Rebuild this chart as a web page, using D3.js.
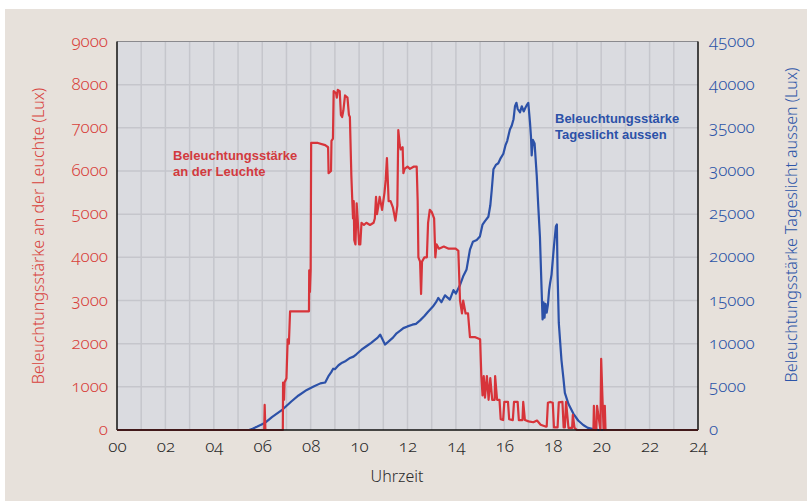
<!DOCTYPE html>
<html>
<head>
<meta charset="utf-8">
<script src="https://cdn.jsdelivr.net/npm/d3@7"></script>
<style>
  body { margin: 0; background: #ffffff; }
  svg { display: block; }
  .num { font-family: "Noto Sans", sans-serif; font-variant-numeric: oldstyle-nums; font-weight: 300; }
</style>
</head>
<body>
<div id="chart"></div>
<script>
// hours of the day shown on the x axis
var hourTicks = [0, 2, 4, 6, 8, 10, 12, 14, 16, 18, 20, 22, 24];
var hourLabels = ["00", "02", "04", "06", "08", "10", "12", "14", "16", "18", "20", "22", "24"];
var leftTicks = [0, 1000, 2000, 3000, 4000, 5000, 6000, 7000, 8000, 9000];
var rightTicks = [0, 5000, 10000, 15000, 20000, 25000, 30000, 35000, 40000, 45000];

// Beleuchtungsstärke an der Leuchte (Lux)
var lampHours = [0, 6.08, 6.1, 6.13, 6.85, 6.86, 6.9, 6.92, 7.0, 7.05, 7.1, 7.15, 7.5, 7.93, 7.94, 7.97, 8.0, 8.02, 8.3, 8.6, 8.72, 8.74, 8.84, 8.86, 8.92, 8.95, 9.05, 9.08, 9.12, 9.2, 9.25, 9.3, 9.35, 9.42, 9.52, 9.58, 9.62, 9.68, 9.72, 9.75, 9.78, 9.8, 9.85, 9.9, 9.95, 10.0, 10.05, 10.1, 10.2, 10.3, 10.45, 10.6, 10.65, 10.7, 10.74, 10.8, 10.85, 10.95, 11.05, 11.1, 11.15, 11.2, 11.22, 11.3, 11.4, 11.45, 11.5, 11.58, 11.62, 11.68, 11.72, 11.8, 11.83, 11.88, 12.0, 12.1, 12.25, 12.38, 12.42, 12.45, 12.52, 12.56, 12.6, 12.7, 12.8, 12.85, 12.92, 13.0, 13.1, 13.15, 13.2, 13.3, 13.5, 13.7, 14.0, 14.1, 14.17, 14.25, 14.3, 14.4, 14.5, 14.58, 14.8, 15.0, 15.05, 15.1, 15.15, 15.2, 15.28, 15.35, 15.42, 15.5, 15.6, 15.62, 15.7, 15.8, 15.85, 15.95, 16.0, 16.15, 16.2, 16.35, 16.4, 16.55, 16.6, 16.75, 16.78, 16.85, 17.0, 17.2, 17.35, 17.5, 17.7, 17.75, 17.8, 17.9, 18.0, 18.05, 18.2, 18.25, 18.4, 18.45, 18.5, 18.55, 18.65, 18.8, 18.83, 18.9, 19.0, 19.68, 19.7, 19.73, 19.8, 19.83, 19.97, 20.0, 20.05, 20.1, 20.15, 20.18, 20.22, 24];
var lampLux = [0, 0, 580, 0, 0, 1100, 700, 1100, 1200, 2100, 2000, 2750, 2750, 2750, 3700, 3200, 3700, 6650, 6650, 6600, 6550, 5950, 6000, 6700, 6750, 7850, 7800, 7700, 7880, 7850, 7300, 7250, 7400, 7750, 7700, 7300, 7250, 5900, 5300, 4900, 5300, 4400, 4300, 5250, 4800, 4300, 4300, 4800, 4750, 4800, 4750, 4800, 4900, 5400, 5000, 5200, 5400, 5100, 5500, 5800, 6300, 5600, 5300, 5300, 5150, 5000, 4850, 5200, 6950, 6600, 6500, 6550, 5950, 6050, 6100, 6050, 6100, 6100, 5300, 4000, 3900, 3150, 3900, 4000, 4000, 4800, 5100, 5050, 4900, 4000, 4300, 4200, 4250, 4200, 4200, 4150, 3000, 2700, 3000, 2700, 2700, 2150, 2150, 2100, 1250, 800, 1250, 750, 1250, 700, 1200, 700, 700, 1250, 700, 700, 250, 230, 650, 650, 250, 230, 650, 650, 230, 230, 650, 230, 200, 180, 220, 120, 80, 80, 630, 650, 630, 60, 60, 640, 650, 60, 60, 650, 50, 50, 350, 50, 0, 0, 560, 0, 0, 560, 0, 1650, 800, 0, 560, 0, 0, 0];

// Beleuchtungsstärke Tageslicht aussen (Lux)
var dayHours = [0, 5.45, 5.6, 5.8, 6.1, 6.4, 6.85, 7.2, 7.5, 7.84, 8.1, 8.4, 8.6, 8.75, 8.85, 8.93, 9.0, 9.15, 9.3, 9.45, 9.6, 9.77, 9.9, 10.1, 10.3, 10.5, 10.73, 10.8, 10.87, 10.95, 11.07, 11.2, 11.4, 11.55, 11.7, 11.83, 12.0, 12.2, 12.35, 12.52, 12.7, 12.85, 13.05, 13.2, 13.27, 13.4, 13.55, 13.75, 13.9, 14.0, 14.17, 14.3, 14.44, 14.58, 14.7, 14.86, 14.99, 15.1, 15.2, 15.34, 15.42, 15.48, 15.55, 15.65, 15.75, 15.85, 15.96, 16.05, 16.12, 16.23, 16.3, 16.38, 16.44, 16.5, 16.55, 16.65, 16.72, 16.8, 16.85, 16.92, 16.99, 17.06, 17.1, 17.13, 17.18, 17.25, 17.34, 17.4, 17.47, 17.54, 17.58, 17.62, 17.66, 17.7, 17.75, 17.8, 17.85, 17.89, 17.95, 18.05, 18.13, 18.17, 18.2, 18.25, 18.36, 18.44, 18.5, 18.65, 18.85, 19.05, 19.26, 19.45, 19.67, 19.9, 24];
var dayLux = [0, 0, 150, 400, 800, 1500, 2400, 3300, 4000, 4640, 5000, 5400, 5500, 6300, 6700, 7100, 7050, 7500, 7800, 8000, 8300, 8500, 8800, 9300, 9700, 10100, 10600, 10800, 11050, 10600, 9900, 10200, 10700, 11200, 11500, 11800, 12000, 12200, 12300, 12700, 13200, 13700, 14300, 14900, 15300, 14800, 15600, 15100, 16200, 15800, 16800, 17800, 18600, 20900, 21800, 22000, 22400, 23800, 24200, 24700, 26000, 27800, 30200, 30700, 30900, 31500, 32000, 33000, 33500, 34800, 35200, 36000, 37500, 37900, 37200, 36800, 37500, 36900, 37200, 37600, 37900, 35600, 34000, 31800, 33600, 33200, 29400, 26000, 22400, 16200, 12800, 14800, 13000, 14600, 13600, 14500, 16200, 17000, 18000, 21300, 23600, 23800, 18000, 12400, 8100, 6000, 4300, 3000, 1900, 1100, 580, 250, 100, 0, 0];

var width = 807, height = 501;
// plot box (not "top": that name is taken by window.top)
var plotL = 117, plotR = 698, plotT = 41.5, plotB = 430;

var svg = d3.select("#chart").append("svg")
	.attr("width", width)
	.attr("height", height);

// beige page, small white border top and left
svg.append("rect").attr("x", 5).attr("y", 9)
	.attr("width", width - 5).attr("height", height - 9)
	.attr("fill", "#e7e1db");

var x = d3.scaleLinear().domain([0, 24]).range([plotL, plotR]);
var yL = d3.scaleLinear().domain([0, 9000]).range([plotB, plotT]);
var yR = d3.scaleLinear().domain([0, 45000]).range([plotB, plotT]);

// plot background
svg.append("rect").attr("x", plotL).attr("y", plotT)
	.attr("width", plotR - plotL).attr("height", plotB - plotT)
	.attr("fill", "#dadbe0");

// grid: every hour, every 1000 lux
svg.append("g").selectAll("line").data(d3.range(1, 24)).enter().append("line")
	.attr("x1", function(d) { return x(d); })
	.attr("x2", function(d) { return x(d); })
	.attr("y1", plotT).attr("y2", plotB)
	.attr("stroke", "#c5c6cc").attr("stroke-width", 1.5);
svg.append("g").selectAll("line").data(leftTicks.slice(1, 9)).enter().append("line")
	.attr("y1", function(d) { return yL(d); })
	.attr("y2", function(d) { return yL(d); })
	.attr("x1", plotL).attr("x2", plotR)
	.attr("stroke", "#c5c6cc").attr("stroke-width", 1.5);

// frame
svg.append("line").attr("x1", plotL).attr("x2", plotR).attr("y1", plotT).attr("y2", plotT)
	.attr("stroke", "#8a8a8e").attr("stroke-width", 1);
svg.append("line").attr("x1", plotL).attr("x2", plotL).attr("y1", plotT).attr("y2", plotB)
	.attr("stroke", "#111").attr("stroke-width", 1.5);
svg.append("line").attr("x1", plotR).attr("x2", plotR).attr("y1", plotT).attr("y2", plotB)
	.attr("stroke", "#111").attr("stroke-width", 1.5);

// data lines
var lampData = lampHours.map(function(h, i) { return [h, lampLux[i]]; });
var dayData = dayHours.map(function(h, i) { return [h, dayLux[i]]; });

svg.append("path").datum(dayData)
	.attr("d", d3.line().x(function(d) { return x(d[0]); }).y(function(d) { return yR(d[1]); }))
	.attr("fill", "none").attr("stroke", "#2c51a8").attr("stroke-width", 2.2)
	.attr("stroke-linejoin", "round");
svg.append("path").datum(lampData)
	.attr("d", d3.line().x(function(d) { return x(d[0]); }).y(function(d) { return yL(d[1]); }))
	.attr("fill", "none").attr("stroke", "#d7343a").attr("stroke-width", 2.2)
	.attr("stroke-linejoin", "round");

svg.append("line").attr("x1", plotL).attr("x2", plotR).attr("y1", plotB).attr("y2", plotB)
	.attr("stroke", "#111").attr("stroke-width", 1.5);

// axes
var xAxis = svg.append("g").attr("class", "num")
	.attr("transform", "translate(0," + plotB + ")")
	.call(d3.axisBottom(x).tickValues(hourTicks).tickSize(0)
		.tickFormat(function(d, i) { return hourLabels[i]; }));
xAxis.select(".domain").remove();
xAxis.selectAll("text").attr("y", 21.5).attr("dy", null)
	.attr("font-size", 17).attr("fill", "#2b2b2b");
xAxis.attr("font-family", null);

var lAxis = svg.append("g").attr("class", "num")
	.attr("transform", "translate(" + plotL + ",0)")
	.call(d3.axisLeft(yL).tickValues(leftTicks).tickSize(0).tickPadding(9).tickFormat(d3.format("d")));
lAxis.select(".domain").remove();
lAxis.selectAll("text").attr("dy", "0.27em")
	.attr("font-size", 17).attr("fill", "#d8413c");
lAxis.attr("font-family", null);

var rAxis = svg.append("g").attr("class", "num")
	.attr("transform", "translate(" + plotR + ",0)")
	.call(d3.axisRight(yR).tickValues(rightTicks).tickSize(0).tickPadding(11).tickFormat(d3.format("d")));
rAxis.select(".domain").remove();
rAxis.selectAll("text").attr("dy", "0.27em")
	.attr("font-size", 17).attr("fill", "#2d55a8");
rAxis.attr("font-family", null);

// axis titles
svg.append("text").text("Uhrzeit")
	.attr("x", 397).attr("y", 482).attr("text-anchor", "middle").attr("font-weight", 300)
	.attr("font-family", "Noto Sans, sans-serif").attr("font-size", 16).attr("fill", "#2b2b2b");
svg.append("text").text("Beleuchtungsstärke an der Leuchte (Lux)")
	.attr("transform", "translate(38,236) rotate(-90)")
	.attr("text-anchor", "middle").attr("dy", "0.35em").attr("font-weight", 300)
	.attr("font-family", "Noto Sans, sans-serif").attr("font-size", 16).attr("fill", "#d8413c");
svg.append("text").text("Beleuchtungsstärke Tageslicht aussen (Lux)")
	.attr("transform", "translate(791,225) rotate(-90)")
	.attr("text-anchor", "middle").attr("dy", "0.35em").attr("font-weight", 300)
	.attr("font-family", "Noto Sans, sans-serif").attr("font-size", 16).attr("fill", "#2d55a8");

// labels inside the plot
function note(lines, px, py, color) {
	var t = svg.append("text").attr("font-family", "Liberation Sans, Arial, sans-serif")
		.attr("font-weight", "bold").attr("font-size", 13).attr("fill", color);
	lines.forEach(function(s, i) {
		t.append("tspan").attr("x", px).attr("y", py + i * 16).text(s);
	});
}
note(["Beleuchtungsstärke", "an der Leuchte"], 173, 160, "#d23a3e");
note(["Beleuchtungsstärke", "Tageslicht aussen"], 555, 123, "#2c51a8");
</script>
</body>
</html>
